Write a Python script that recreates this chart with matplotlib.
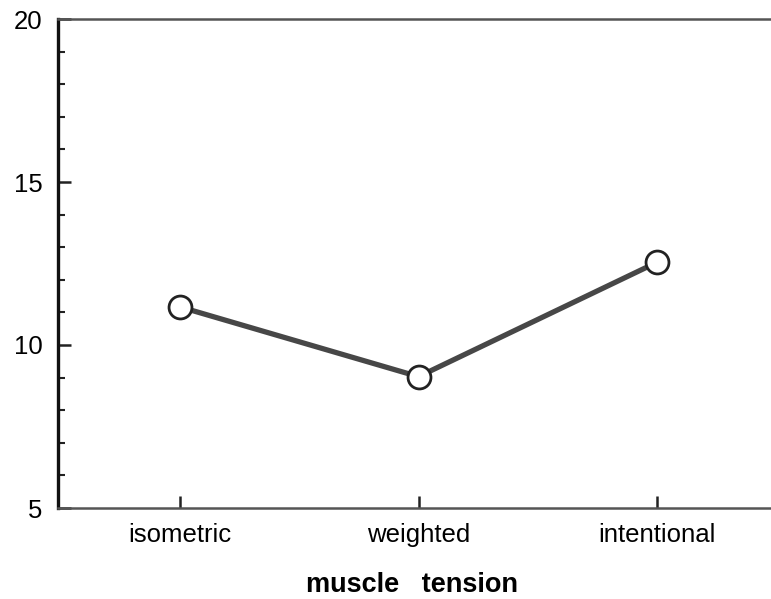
import matplotlib
matplotlib.use("Agg")
import matplotlib.pyplot as plt
from matplotlib.ticker import MultipleLocator

plt.rcParams['font.family'] = ['Liberation Sans', 'DejaVu Sans']

# Mean scores by muscle-tension condition
conditions = ["isometric", "weighted", "intentional"]
scores = [11.17, 9.03, 12.54]
y_ticks = [5, 10, 15, 20]

fig = plt.figure(figsize=(7.71, 5.99), dpi=100)
ax = fig.add_axes([58 / 771, 1 - 508 / 599, (779 - 58) / 771, (508 - 19) / 599])

x = list(range(len(conditions)))
ax.plot(x, scores, color="#474747", linewidth=3.8, solid_capstyle="butt", zorder=2)
ax.plot(x, scores, linestyle="none", marker="o", markersize=16.5,
        markerfacecolor="white", markeredgecolor="#222222", markeredgewidth=2.0,
        zorder=3)

ax.set_xlim(-0.51, 2.51)
ax.set_ylim(5, 20)
ax.set_xticks(x)
ax.set_xticklabels(conditions)
ax.set_yticks(y_ticks)
ax.yaxis.set_minor_locator(MultipleLocator(1))

ax.tick_params(axis="y", which="major", direction="in", length=9, width=1.8,
               color="#222222", labelsize=18.5, pad=11)
ax.tick_params(axis="y", which="minor", direction="in", length=5, width=1.5,
               color="#222222")
ax.tick_params(axis="x", which="major", direction="in", length=9, width=1.8,
               color="#222222", labelsize=18.5, pad=11)

ax.spines["right"].set_visible(False)
ax.spines["left"].set_linewidth(2.4)
ax.spines["left"].set_color("#111111")
for side in ("top", "bottom"):
    ax.spines[side].set_linewidth(1.8)
    ax.spines[side].set_color("#555555")

fig.text(412 / 771, 1 - 585 / 599, "muscle   tension", ha="center", va="center",
         fontsize=19.5, fontweight="bold")

fig.savefig("out.png", dpi=100)
